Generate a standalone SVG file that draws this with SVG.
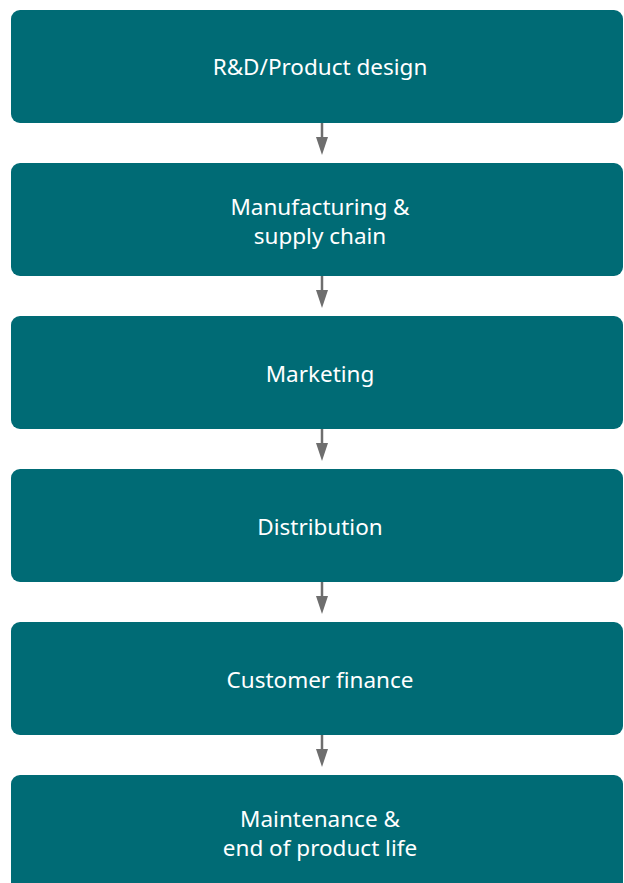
<svg xmlns="http://www.w3.org/2000/svg" width="624" height="883" viewBox="0 0 624 883">
<style>
.box{fill:#006b75}
.lbl{fill:#ffffff;font-family:"Noto Sans","Open Sans",sans-serif;font-size:22.5px;text-anchor:middle}
.conn{stroke:#6e6e6e;stroke-width:2.5;fill:none}
.head{fill:#6e6e6e}
</style>
<rect width="624" height="883" fill="#ffffff"/>
<g id="n1"><rect class="box" x="11" y="10" width="612" height="113" rx="9"/><text class="lbl" x="320" y="75">R&amp;D/Product design</text></g>
<g id="n2"><rect class="box" x="11" y="163" width="612" height="113" rx="9"/><text class="lbl" x="320" y="215">Manufacturing &amp;</text><text class="lbl" x="320" y="244">supply chain</text></g>
<g id="n3"><rect class="box" x="11" y="316" width="612" height="113" rx="9"/><text class="lbl" x="320" y="382">Marketing</text></g>
<g id="n4"><rect class="box" x="11" y="469" width="612" height="113" rx="9"/><text class="lbl" x="320" y="535">Distribution</text></g>
<g id="n5"><rect class="box" x="11" y="622" width="612" height="113" rx="9"/><text class="lbl" x="320" y="688">Customer finance</text></g>
<g id="n6"><rect class="box" x="11" y="775" width="612" height="120" rx="9"/><text class="lbl" x="320" y="827">Maintenance &amp;</text><text class="lbl" x="320" y="856">end of product life</text></g>
<g id="connectors">
<g><line class="conn" x1="322" y1="123" x2="322" y2="140"/><path class="head" d="M316 137 L328 137 L322 155 Z"/></g>
<g><line class="conn" x1="322" y1="276" x2="322" y2="293"/><path class="head" d="M316 290 L328 290 L322 308 Z"/></g>
<g><line class="conn" x1="322" y1="429" x2="322" y2="446"/><path class="head" d="M316 443 L328 443 L322 461 Z"/></g>
<g><line class="conn" x1="322" y1="582" x2="322" y2="599"/><path class="head" d="M316 596 L328 596 L322 614 Z"/></g>
<g><line class="conn" x1="322" y1="735" x2="322" y2="752"/><path class="head" d="M316 749 L328 749 L322 767 Z"/></g>
</g>
</svg>
